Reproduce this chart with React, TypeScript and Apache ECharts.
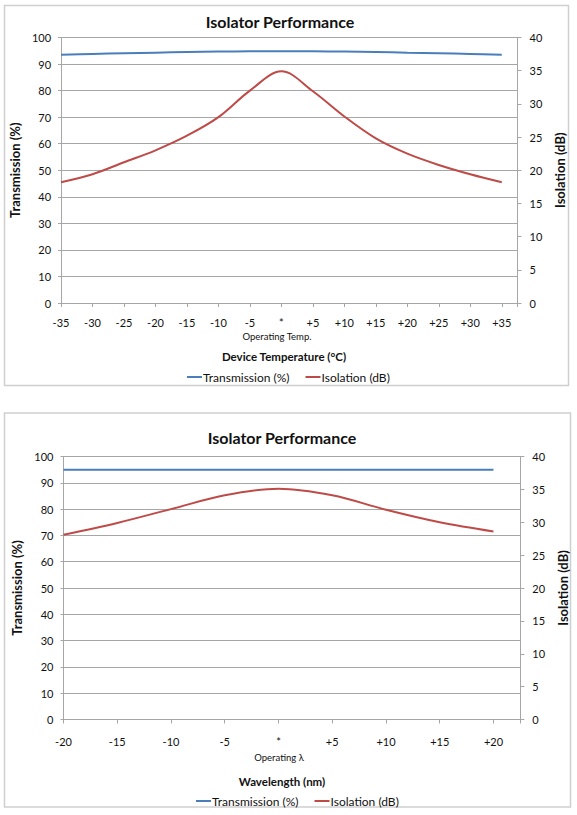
import React, { useEffect, useRef } from "react";
import * as echarts from "echarts";

// Chart 1: Device temperature
const tempX = [-35, -30, -25, -20, -15, -10, -5, 0, 5, 10, 15, 20, 25, 30, 35];
const tempTransmission = [93.5, 93.8, 94.1, 94.3, 94.5, 94.7, 94.8, 94.8, 94.8, 94.7, 94.5, 94.3, 94.1, 93.8, 93.5];
const tempIsolation = [18.2, 19.4, 21.2, 23.0, 25.2, 28.0, 32.0, 34.9, 31.9, 28.1, 24.8, 22.5, 20.8, 19.4, 18.2];

// Chart 2: Wavelength
const waveX = [-20, -15, -10, -5, 0, 5, 10, 15, 20];
const waveTransmission = [95.0, 95.0, 95.0, 95.0, 95.0, 95.0, 95.0, 95.0, 95.0];
const waveIsolation = [28.1, 29.9, 32.0, 34.1, 35.1, 34.1, 31.9, 30.0, 28.6];

const titleText = "Isolator Performance";
const seriesNames = ["Transmission (%)", "Isolation (dB)"];
const leftAxisName = "Transmission (%)";
const rightAxisName = "Isolation (dB)";
const xName1 = "Device Temperature (°C)";
const xName2 = "Wavelength (nm)";
const xSub1 = "Operating Temp.";
const xSub2 = "Operating λ";

const FONT = "Lato";
const BLUE = "#4A7EBB";
const RED = "#BE4B48";
const GRID = "#a6a6a6";
const TXT = "#111111";

const zip = (xs: number[], ys: number[]) => xs.map((x, i) => [x, ys[i]]);

const fmtX = (lastTick: number) => (v: number) => {
  if (v > lastTick + 0.001) return "";
  if (v === 0) return "*";
  return v > 0 ? "+" + v : String(v);
};

export default function App() {
  const ref = useRef<HTMLDivElement>(null);
  useEffect(() => {
    if (!ref.current) return;
    const chart = echarts.init(ref.current, undefined, { renderer: "svg" });

    const axisLine = { show: true, onZero: false, lineStyle: { color: GRID, width: 1 } };
    const label = (margin: number) => ({ color: TXT, fontFamily: FONT, fontSize: 11, margin });

    const mkX = (gridIndex: number, min: number, max: number, lastTick: number, margin: number) => ({
      type: "value",
      gridIndex,
      min,
      max,
      interval: 5,
      axisLine,
      axisTick: { show: true, length: 4, lineStyle: { color: GRID } },
      axisLabel: { ...label(margin), formatter: fmtX(lastTick) },
      splitLine: { show: false },
    });

    const mkLeft = (gridIndex: number, gap: number) => ({
      type: "value",
      gridIndex,
      position: "left",
      min: 0,
      max: 100,
      interval: 10,
      name: leftAxisName,
      nameLocation: "middle",
      nameGap: gap,
      nameTextStyle: { fontFamily: FONT, fontWeight: "bold", fontSize: 13, color: TXT, verticalAlign: "middle" },
      axisLine,
      axisTick: { show: true, length: 3, lineStyle: { color: GRID } },
      axisLabel: label(10),
      splitLine: { show: true, lineStyle: { color: GRID, width: 1 } },
    });

    const mkRight = (gridIndex: number, gap: number) => ({
      type: "value",
      gridIndex,
      position: "right",
      min: 0,
      max: 40,
      interval: 5,
      name: rightAxisName,
      nameLocation: "middle",
      nameGap: gap,
      nameTextStyle: { fontFamily: FONT, fontWeight: "bold", fontSize: 13, color: TXT, verticalAlign: "middle" },
      axisLine,
      axisTick: { show: true, length: 4, lineStyle: { color: GRID } },
      axisLabel: label(12),
      splitLine: { show: false },
    });

    const line = (name: string, color: string, xi: number, yi: number, data: number[][]) => ({
      type: "line",
      name,
      xAxisIndex: xi,
      yAxisIndex: yi,
      data,
      showSymbol: false,
      symbol: "none",
      smooth: 0.35,
      lineStyle: { color, width: 2 },
      itemStyle: { color },
    });

    const legend = (left: number, top: number) => ({
      left,
      top,
      orient: "horizontal",
      data: seriesNames,
      icon: "rect",
      itemWidth: 15,
      itemHeight: 2,
      itemGap: 16,
      selectedMode: false,
      textStyle: { fontFamily: FONT, fontSize: 12, color: TXT, padding: [0, 0, 0, -4] },
    });

    const txt = (text: string, x: number, y: number, size: number, bold: boolean) => ({
      type: "text",
      x,
      y,
      silent: true,
      style: {
        text,
        fill: TXT,
        fontFamily: FONT,
        fontSize: size,
        fontWeight: bold ? "bold" : "normal",
        textAlign: "center",
        textVerticalAlign: "middle",
      },
    });

    const border = (x: number, y: number, w: number, h: number) => ({
      type: "rect",
      silent: true,
      shape: { x, y, width: w, height: h },
      style: { fill: "none", stroke: "#cfcfcf", lineWidth: 1.5 },
    });

    chart.setOption({
      animation: false,
      backgroundColor: "#ffffff",
      grid: [
        { left: 53.5, top: 37.5, width: 464, height: 265.5, containLabel: false },
        { left: 63.5, top: 456.5, width: 460.5, height: 263, containLabel: false },
      ],
      xAxis: [mkX(0, -35, 37.5, 35, 14), mkX(1, -20, 22.5, 20, 16)],
      yAxis: [mkLeft(0, 39), mkRight(0, 38), mkLeft(1, 41), mkRight(1, 37)],
      legend: [legend(182, 366), legend(191, 790)],
      series: [
        line(seriesNames[0], BLUE, 0, 0, zip(tempX, tempTransmission)),
        line(seriesNames[1], RED, 0, 1, zip(tempX, tempIsolation)),
        line(seriesNames[0], BLUE, 1, 2, zip(waveX, waveTransmission)),
        line(seriesNames[1], RED, 1, 3, zip(waveX, waveIsolation)),
      ],
      graphic: [
        border(4.5, 5.5, 564, 380),
        border(4.5, 413, 566, 394),
        txt(titleText, 280, 21.5, 16, true),
        txt(titleText, 282, 437.5, 16, true),
        txt(xSub1, 277, 336, 9.5, false),
        txt(xSub2, 279, 757, 9.5, false),
        txt(xName1, 284, 356.5, 11.5, true),
        txt(xName2, 282, 781, 11.5, true),
      ],
    });

    return () => chart.dispose();
  }, []);

  return (
    <div
      ref={ref}
      style={{ position: "absolute", left: 0, top: 0, width: 577, height: 815, background: "#fff" }}
    />
  );
}
